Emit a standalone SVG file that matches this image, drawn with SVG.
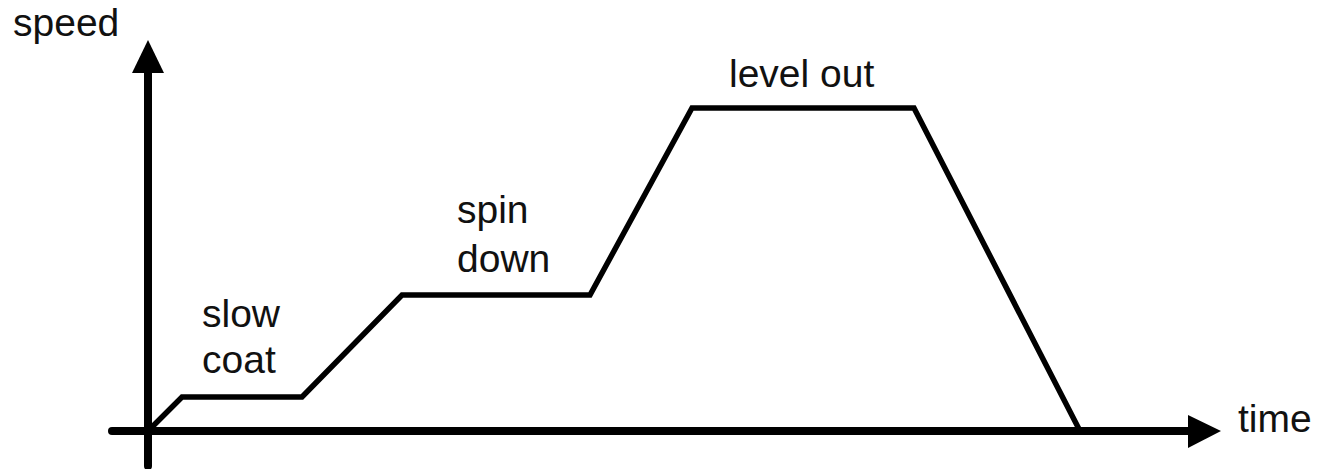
<svg xmlns="http://www.w3.org/2000/svg" width="1317" height="469" viewBox="0 0 1317 469">
<style>
.lbl{font-family:"Liberation Sans",Arial,sans-serif;font-size:39px;fill:#111}
.ax{stroke:#000;stroke-width:8;fill:none;stroke-linecap:round}
.curve{stroke:#000;stroke-width:5.5;fill:none;stroke-linejoin:miter}
</style>
<rect width="1317" height="469" fill="#fff"/>
<g id="axes">
<line class="ax" x1="148" y1="466" x2="148" y2="70"/>
<polygon points="148,40 132,73 164,73" fill="#000"/>
<line class="ax" x1="112" y1="431" x2="1190" y2="431"/>
<polygon points="1221,431 1188,415 1188,448" fill="#000"/>
</g>
<g id="connectors">
<polyline class="curve" points="148,431 182,397 302,397 402,295 590,295 692,108 914,108 1080,431"/>
</g>
<g id="labels">
<text class="lbl" x="13" y="36">speed</text>
<text class="lbl" x="1238" y="432">time</text>
<text class="lbl" x="729" y="87">level out</text>
<text class="lbl" x="457" y="223">spin</text>
<text class="lbl" x="457" y="272">down</text>
<text class="lbl" x="202" y="327">slow</text>
<text class="lbl" x="202" y="373">coat</text>
</g>
</svg>
